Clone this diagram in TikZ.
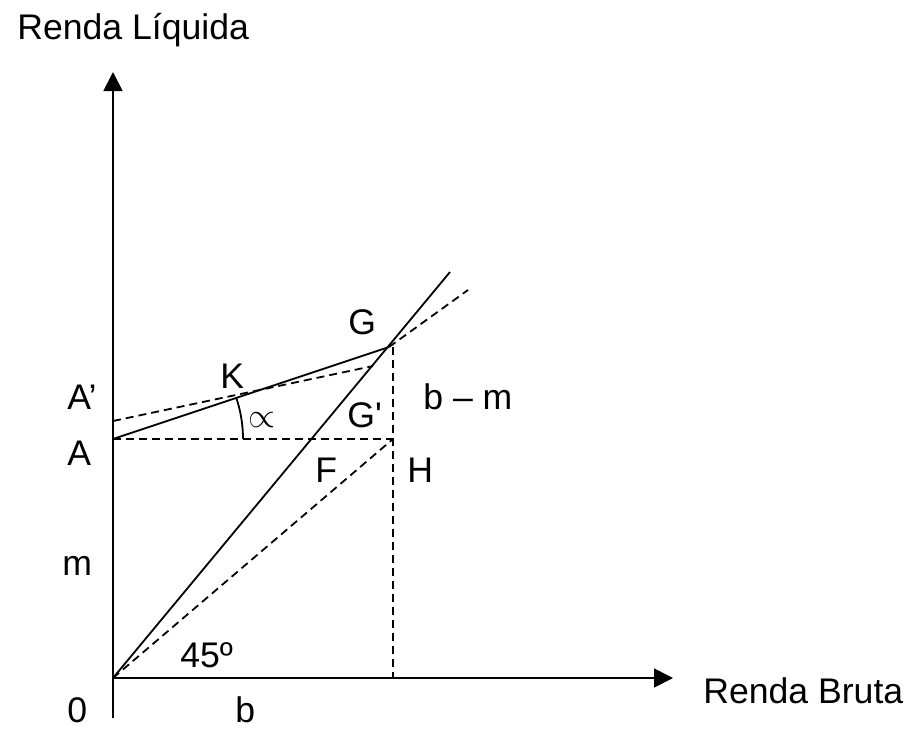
\documentclass[tikz,border=0pt]{standalone}
\usepackage{fontspec}
\setmainfont{Liberation Sans}
\usetikzlibrary{arrows.meta}
\tikzset{
  lbl/.style={inner sep=0pt, anchor=base west, font=\fontsize{17.8}{21}\selectfont},
  axisln/.style={line width=0.9pt, -{Triangle[length=9.5pt, width=9.5pt]}},
  solidln/.style={line width=0.9pt},
  dashln/.style={line width=0.9pt, dash pattern=on 4pt off 2.5pt},
}
\begin{document}
\begin{tikzpicture}[x=0.5pt, y=-0.5pt]
  \useasboundingbox (0,0) rectangle (911,729);
  % points of the figure
  \coordinate (O) at (113,678);
  \coordinate (ybot) at (113,718);
  \coordinate (ytop) at (113,72);
  \coordinate (xend) at (673,678);
  \coordinate (A) at (113,439);
  \coordinate (Ap) at (113,421);
  \coordinate (G) at (389,347);
  \coordinate (Gp) at (373,366);
  \coordinate (H) at (393,439);
  \coordinate (Gv) at (393,347);
  \coordinate (Hb) at (393,678);
  \coordinate (Oend) at (450,272);
  \coordinate (Dend) at (468,290);
  \coordinate (arcS) at (243,439);
  % axes
  \draw[axisln] (ybot) -- (ytop);
  \draw[axisln] (O) -- (xend);
  % lines
  \draw[solidln] (O) -- (Oend);
  \draw[solidln] (A) -- (G);
  \draw[dashln] (A) -- (H);
  \draw[dashln] (O) -- (H);
  \draw[dashln] (Gv) -- (Hb);
  \draw[dashln] (Ap) -- (Gp);
  \draw[dashln] (G) -- (Dend);
  \draw[solidln] (arcS) arc[start angle=0, end angle=-18.4, radius=130];
  % labels
  \node[lbl] (ylab) at (17,39) {Renda Líquida};
  \node[lbl] (xlab) at (703,703) {Renda Bruta};
  \node[lbl] (Glab) at (348,334) {G};
  \node[lbl] (Klab) at (220,388) {K};
  \node[lbl] (Aplab) at (67,409) {A’};
  \node[lbl] (Alab) at (67,465) {A};
  \node[lbl, anchor=center] (alab) at (262,420) {$\propto$};
  \node[lbl] (Gplab) at (347,427) {G\textquotesingle};
  \node[lbl] (bmlab) at (423,409) {b – m};
  \node[lbl] (Flab) at (315,482) {F};
  \node[lbl] (Hlab) at (407,482) {H};
  \node[lbl] (mlab) at (62,575) {m};
  \node[lbl] (anglab) at (180,667) {45º};
  \node[lbl] (Olab) at (67,722) {0};
  \node[lbl] (blab) at (235,722) {b};
\end{tikzpicture}
\end{document}
